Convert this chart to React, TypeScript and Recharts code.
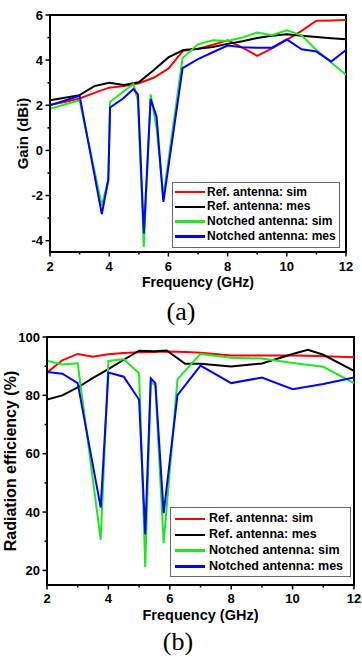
import { LineChart, Line, XAxis, YAxis, ReferenceArea, Legend } from 'recharts';

const FONT = '"Liberation Sans", Arial, Helvetica, sans-serif';

const SERIES_NAMES = ['Ref. antenna: sim', 'Ref. antenna: mes', 'Notched antenna: sim', 'Notched antenna: mes'];
const SERIES_COLORS = ['#ff0000', '#000000', '#1ee81e', '#0000ff'];

const FREQ_TICKS = [2, 3, 4, 5, 6, 7, 8, 9, 10, 11, 12];
const GAIN_TICKS = [-4, -3, -2, -1, 0, 1, 2, 3, 4, 5, 6];
const EFF_TICKS = [20, 30, 40, 50, 60, 70, 80, 90, 100];

// (a) gain, dBi
const gainRefFreq = [2, 2.5, 3, 3.5, 4, 4.5, 5, 5.5, 6, 6.5, 7, 7.5, 8, 8.5, 9, 9.5, 10, 10.5, 11, 11.5, 12];
const gainRefSim = [2.02, 2.15, 2.3, 2.55, 2.78, 2.85, 2.98, 3.22, 3.62, 4.42, 4.5, 4.68, 4.88, 4.55, 4.19, 4.52, 4.9, 5.3, 5.75, 5.76, 5.78];
const gainRefMes = [2.22, 2.33, 2.45, 2.85, 3.0, 2.9, 3.02, 3.55, 4.12, 4.45, 4.5, 4.58, 4.72, 4.84, 4.98, 5.08, 5.15, 5.08, 5.02, 4.97, 4.93];

const gainNotchFreq = [2, 3, 3.75, 3.97, 4.03, 4.47, 4.82, 4.97, 5.17, 5.4, 5.6, 5.83, 6.48, 7, 7.5, 8, 8.5, 9, 9.5, 10, 10.5, 11, 11.5, 12];
const gainNotchSim = [1.85, 2.22, -2.45, -1.3, 2.15, 2.6, 2.95, 2.2, -4.28, 2.48, 1.0, -2.05, 4.1, 4.7, 4.88, 4.85, 5.0, 5.22, 5.1, 5.32, 5.1, 4.45, 3.9, 3.35];
const gainNotchMes = [2.0, 2.42, -2.82, -1.3, 1.9, 2.3, 2.72, 2.48, -3.68, 2.28, 1.5, -2.28, 3.65, 4.05, 4.35, 4.65, 4.57, 4.55, 4.55, 4.92, 4.48, 4.38, 3.94, 4.45];

// (b) radiation efficiency, %
const effRefFreq = [2, 2.5, 3, 3.5, 4, 4.5, 5, 5.5, 5.9, 6.5, 7, 8, 9, 10, 10.5, 11, 12];
const effRefSim = [87.8, 92, 94.2, 93.2, 94.1, 94.5, 94.8, 94.9, 95, 94.9, 94.6, 93.7, 93.7, 93.7, 93.6, 93.4, 93.1];
const effRefMes = [78.6, 80, 82.7, 86, 89, 92.2, 95.3, 95.1, 95.4, 90.8, 90.8, 89.9, 90.9, 94.2, 95.6, 93.9, 88.4];

const effNotchFreq = [2, 2.5, 3, 3.75, 4, 4.5, 5, 5.2, 5.38, 5.53, 5.8, 6.25, 7, 8, 9, 10, 11, 12];
const effNotchSim = [91.9, 90.6, 91.0, 30.5, 91.8, 92.4, 87.6, 21.1, 84.5, 83.5, 29.3, 85.5, 94.2, 92.9, 92.6, 91.1, 89.8, 84.2];
const effNotchMes = [88, 87.4, 84.2, 41.5, 87.8, 86.4, 78.5, 32.4, 85.8, 84.2, 39.6, 80.1, 90.2, 84.2, 86.1, 82.1, 83.9, 86.1];

const pairs = (fs: number[], vs: number[]) => fs.map((f, i) => ({ f, v: vs[i] }));

const gainSeries = [
  pairs(gainRefFreq, gainRefSim),
  pairs(gainRefFreq, gainRefMes),
  pairs(gainNotchFreq, gainNotchSim),
  pairs(gainNotchFreq, gainNotchMes),
];
const effSeries = [
  pairs(effRefFreq, effRefSim),
  pairs(effRefFreq, effRefMes),
  pairs(effNotchFreq, effNotchSim),
  pairs(effNotchFreq, effNotchMes),
];

function XTick({ x, y, payload, labelDy }: any) {
  const major = payload.value % 2 === 0;
  return (
    <g>
      <line x1={x} x2={x} y1={y} y2={y + (major ? 4.5 : 2.5)} stroke="#000" strokeWidth={1.5} />
      {major && (
        <text x={x} y={y + labelDy} textAnchor="middle" fontSize={13} fontWeight="bold" fontFamily={FONT} fill="#000">
          {payload.value}
        </text>
      )}
    </g>
  );
}

function YTick({ x, y, payload, step }: any) {
  const major = payload.value % step === 0;
  return (
    <g>
      <line x1={x - (major ? 4.5 : 2.5)} x2={x} y1={y} y2={y} stroke="#000" strokeWidth={1.5} />
      {major && (
        <text x={x - 7} y={y + 4.6} textAnchor="end" fontSize={13} fontWeight="bold" fontFamily={FONT} fill="#000">
          {payload.value}
        </text>
      )}
    </g>
  );
}

function xTitle(text: string, fontSize: number, fromBottom: number) {
  return ({ viewBox }: any) => (
    <text
      x={viewBox.x + viewBox.width / 2}
      y={viewBox.y + viewBox.height - fromBottom}
      textAnchor="middle"
      fontSize={fontSize}
      fontWeight="bold"
      fontFamily={FONT}
      fill="#000"
    >
      {text}
    </text>
  );
}

function yTitle(text: string, fontSize: number, cx: number) {
  return ({ viewBox }: any) => {
    const cy = viewBox.y + viewBox.height / 2;
    return (
      <text
        x={cx}
        y={cy}
        transform={`rotate(-90, ${cx}, ${cy})`}
        textAnchor="middle"
        dominantBaseline="central"
        fontSize={fontSize}
        fontWeight="bold"
        fontFamily={FONT}
        fill="#000"
      >
        {text}
      </text>
    );
  };
}

// recharts sorts legend items by name; keep the series order instead
function legendBox(padTop: number, rowH: number, swatchLeft: number, textLeft: number, fontSize: number) {
  return ({ payload }: any) => {
    const items = [...(payload || [])].sort(
      (a: any, b: any) => SERIES_NAMES.indexOf(a.value) - SERIES_NAMES.indexOf(b.value)
    );
    return (
      <div
        style={{
          border: '1px solid #666',
          background: '#fff',
          boxSizing: 'border-box',
          width: '100%',
          height: '100%',
          paddingTop: padTop,
        }}
      >
        {items.map((item: any) => (
          <div key={item.value} style={{ position: 'relative', height: rowH }}>
            <span
              style={{
                position: 'absolute',
                left: swatchLeft,
                top: rowH / 2 - 1.25,
                width: 30,
                height: 2.5,
                background: item.color,
              }}
            />
            <span
              style={{
                position: 'absolute',
                left: textLeft,
                top: 0,
                lineHeight: `${rowH}px`,
                fontSize,
                fontWeight: 'bold',
                fontFamily: FONT,
                whiteSpace: 'nowrap',
                color: '#000',
              }}
            >
              {item.value}
            </span>
          </div>
        ))}
      </div>
    );
  };
}

function Caption({ text, top, center }: { text: string; top: number; center: number }) {
  return (
    <div
      style={{
        position: 'absolute',
        left: center - 50,
        width: 100,
        top,
        textAlign: 'center',
        fontFamily: '"Liberation Serif", "Times New Roman", serif',
        fontSize: 26,
        lineHeight: '26px',
      }}
    >
      {text}
    </div>
  );
}

export default function App() {
  return (
    <div style={{ position: 'absolute', left: 0, top: 0, width: 362, height: 657, background: '#fff' }}>
      <div style={{ position: 'absolute', left: 0, top: 0 }}>
        <LineChart width={362} height={300} margin={{ top: 15, right: 16, left: 0, bottom: 0 }}>
          <XAxis
            type="number"
            dataKey="f"
            domain={[2, 12]}
            ticks={FREQ_TICKS}
            interval={0}
            allowDataOverflow
            height={48}
            tickSize={0}
            tickMargin={0}
            tickLine={false}
            axisLine={{ stroke: '#000', strokeWidth: 2 }}
            tick={(p: any) => <XTick {...p} labelDy={19} />}
            label={{ content: xTitle('Frequency (GHz)', 14, 13.5) }}
          />
          <YAxis
            type="number"
            domain={[-4.5, 6]}
            ticks={GAIN_TICKS}
            interval={0}
            allowDataOverflow
            width={50}
            tickSize={0}
            tickMargin={0}
            tickLine={false}
            axisLine={{ stroke: '#000', strokeWidth: 2 }}
            tick={(p: any) => <YTick {...p} step={2} />}
            label={{ content: yTitle('Gain (dBi)', 15, 22.5) }}
          />
          <ReferenceArea x1={2} x2={12} y1={-4.5} y2={6} fill="none" stroke="#000" strokeWidth={2} />
          {gainSeries.map((d, i) => (
            <Line
              key={SERIES_NAMES[i]}
              data={d}
              dataKey="v"
              name={SERIES_NAMES[i]}
              type="linear"
              stroke={SERIES_COLORS[i]}
              strokeWidth={2}
              dot={false}
              isAnimationActive={false}
            />
          ))}
          <Legend
            layout="vertical"
            align="center"
            verticalAlign="middle"
            content={legendBox(1.6, 14.8, 2, 34, 12)}
            wrapperStyle={{ left: 172, top: 182, width: 168, height: 66 }}
          />
        </LineChart>
      </div>
      <Caption text="(a)" top={299} center={181} />

      <div style={{ position: 'absolute', left: 0, top: 330 }}>
        <LineChart width={362} height={300} margin={{ top: 7, right: 8, left: 0, bottom: 0 }}>
          <XAxis
            type="number"
            dataKey="f"
            domain={[2, 12]}
            ticks={FREQ_TICKS}
            interval={0}
            allowDataOverflow
            height={45}
            tickSize={0}
            tickMargin={0}
            tickLine={false}
            axisLine={{ stroke: '#000', strokeWidth: 2 }}
            tick={(p: any) => <XTick {...p} labelDy={18} />}
            label={{ content: xTitle('Frequency (GHz)', 14.5, 10.5) }}
          />
          <YAxis
            type="number"
            domain={[15, 100]}
            ticks={EFF_TICKS}
            interval={0}
            allowDataOverflow
            width={47}
            tickSize={0}
            tickMargin={0}
            tickLine={false}
            axisLine={{ stroke: '#000', strokeWidth: 2 }}
            tick={(p: any) => <YTick {...p} step={20} />}
            label={{ content: yTitle('Radiation efficiency (%)', 16, 10) }}
          />
          <ReferenceArea x1={2} x2={12} y1={15} y2={100} fill="none" stroke="#000" strokeWidth={2} />
          {effSeries.map((d, i) => (
            <Line
              key={SERIES_NAMES[i]}
              data={d}
              dataKey="v"
              name={SERIES_NAMES[i]}
              type="linear"
              stroke={SERIES_COLORS[i]}
              strokeWidth={2}
              dot={false}
              isAnimationActive={false}
            />
          ))}
          <Legend
            layout="vertical"
            align="center"
            verticalAlign="middle"
            content={legendBox(3, 15.9, 4, 38, 12.5)}
            wrapperStyle={{ left: 170, top: 177, width: 181, height: 70 }}
          />
        </LineChart>
      </div>
      <Caption text="(b)" top={629} center={178} />
    </div>
  );
}
